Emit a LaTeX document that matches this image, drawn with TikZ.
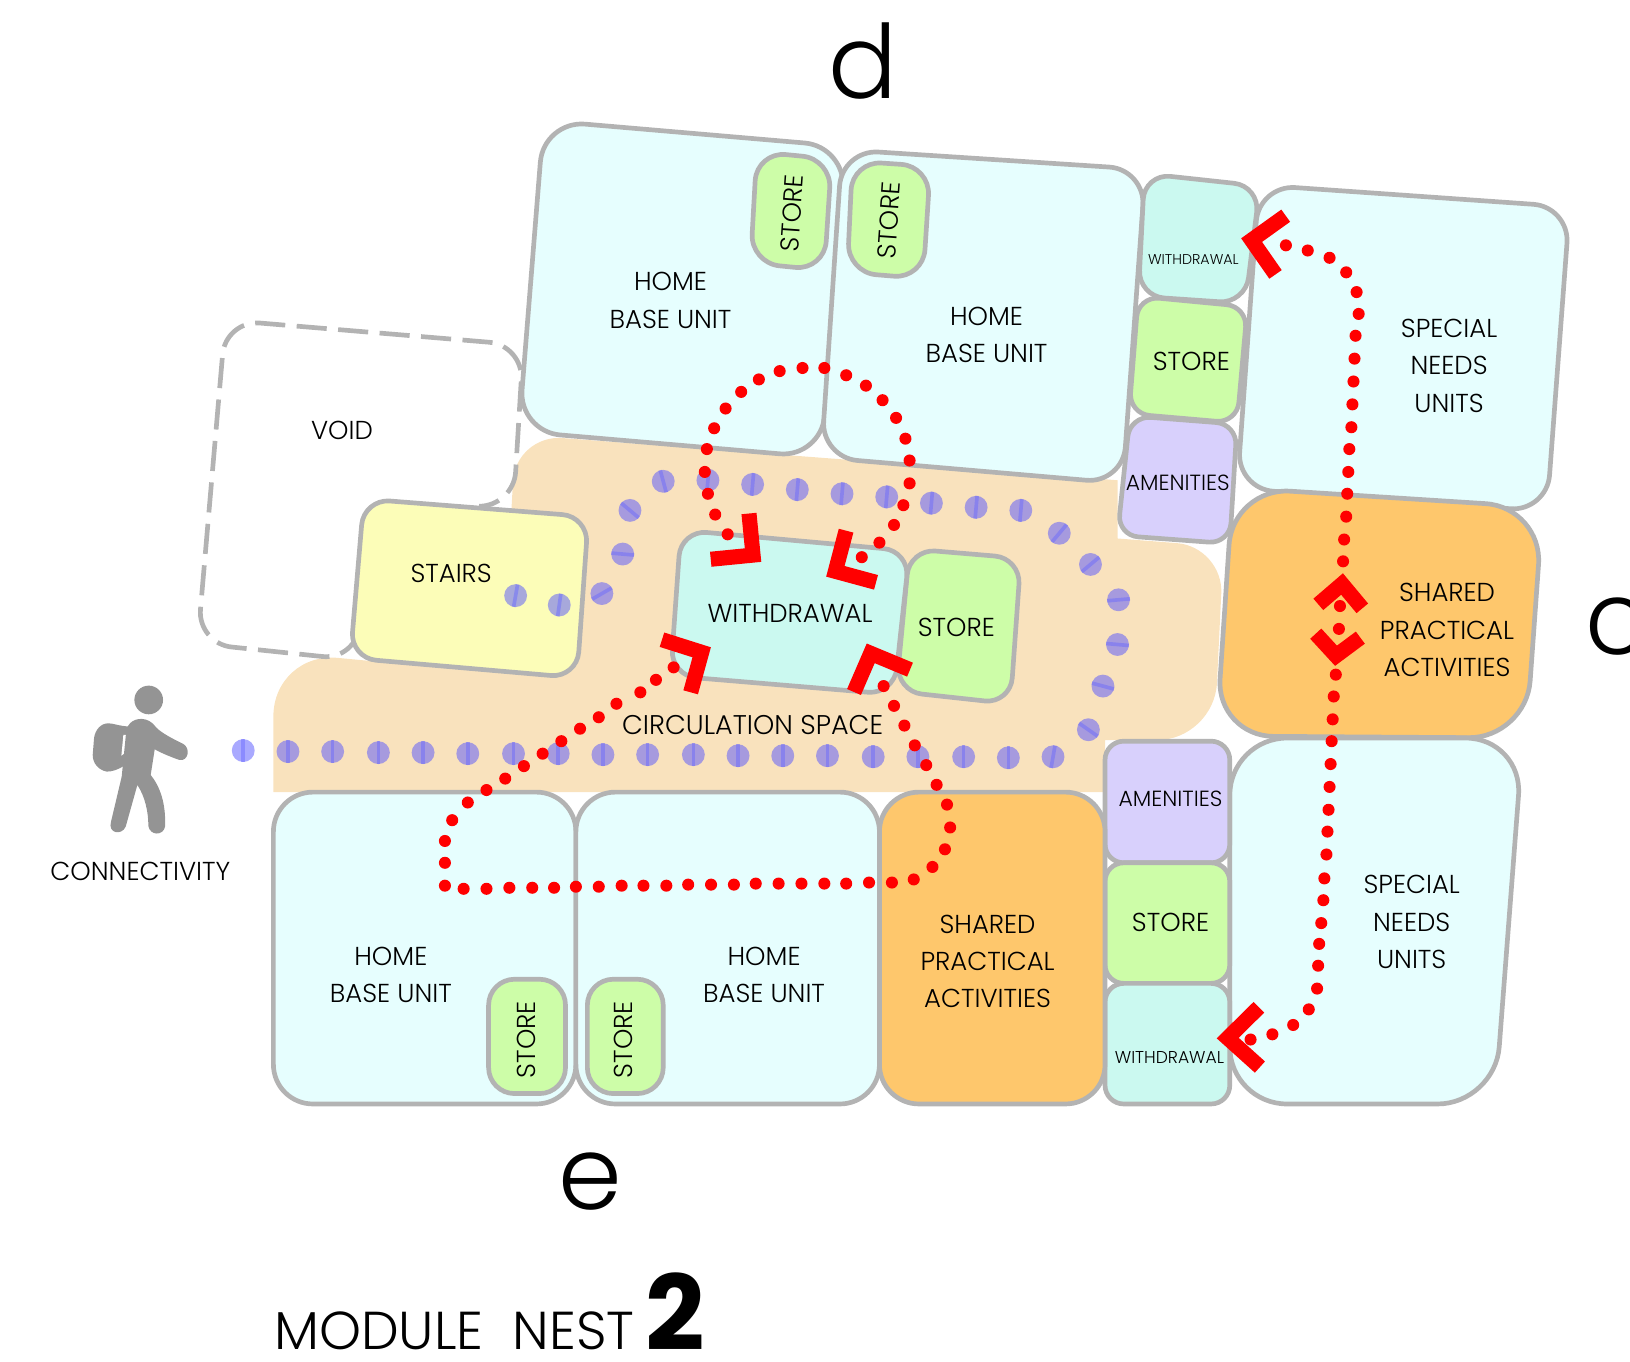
\documentclass[tikz,border=0pt]{standalone}
\usepackage{fontspec}
\setmainfont{Poppins}[UprightFont=* Light, BoldFont=* Bold]
\definecolor{linegrey}{HTML}{B3B3B3}
\definecolor{homecol}{HTML}{E6FEFE}
\definecolor{storecol}{HTML}{CDFDA8}
\definecolor{withdrawcol}{HTML}{CBF9F0}
\definecolor{amenitycol}{HTML}{D8D0FC}
\definecolor{sharedcol}{HTML}{FEC76C}
\definecolor{staircol}{HTML}{FCFDB8}
\definecolor{circcol}{HTML}{F9E2BD}
\definecolor{walkcol}{HTML}{949494}
\tikzset{
  room/.style={draw=linegrey, line width=0.045cm, line join=round},
  label/.style={font=\fontsize{7.1}{10.2}\selectfont, align=center, inner sep=0pt},
  tiny label/.style={font=\fontsize{4.7}{6}\selectfont, inner sep=0pt},
  narrow label/.style={font=\fontsize{6}{8}\selectfont, inner sep=0pt},
  big letter/.style={font=\fontsize{28}{30}\selectfont, inner sep=0pt},
  chevron/.style={draw=red, line width=0.145cm, miter limit=10},
  bluedot/.style={fill=blue!67!white, fill opacity=0.5},
  bluestripe/.style={draw=blue!60!white, line width=0.035cm, draw opacity=0.45}
}
\begin{document}
\begin{tikzpicture}[x=0.01cm, y=-0.01cm]
\path[use as bounding box, clip] (0,0) rectangle (1568,1310);

% circulation space
\fill[circcol] (263,762) [rounded corners=0.62cm] -- (263,627) [sharp corners] -- (400,640) -- (400,520)
  -- (492,520) -- (492,490) [rounded corners=0.45cm] -- (496,418) [sharp corners] -- (1075,462)
  -- (1075,518) [rounded corners=0.45cm] -- (1177,526) [rounded corners=0.55cm] -- (1168,712)
  [sharp corners] -- (1063,712) -- (1063,762) -- cycle;

% void
\draw[linegrey, line width=0.045cm, dash pattern=on 0.29cm off 0.11cm, rounded corners=0.33cm]
  (470,487) -- (494,487) -- (503.5,332) -- (217,308) -- (190,619) -- (343,635) -- (346,600);

% top units
\draw[room, fill=homecol, rounded corners=0.4cm] (523,116) -- (814,141) -- (790,440) -- (499,415) -- cycle;
\draw[room, fill=homecol, rounded corners=0.35cm] (810,144) -- (1102,163) -- (1080,465) -- (790,440) -- cycle;
\draw[room, fill=storecol, rounded corners=0.28cm] (728,146) -- (800,153) -- (793,260) -- (722,253) -- cycle;
\draw[room, fill=storecol, rounded corners=0.28cm] (820,155) -- (895,160) -- (888,268) -- (815,262) -- cycle;
\draw[room, fill=withdrawcol, rounded corners=0.25cm] (1101,167) -- (1212,179) -- (1198,292) -- (1095,285) -- cycle;
\draw[room, fill=storecol, rounded corners=0.2cm] (1095,285) -- (1200,295) -- (1190,407) -- (1086,398) -- cycle;
\draw[room, fill=amenitycol, rounded corners=0.2cm] (1087,400) -- (1190,408) -- (1183,523) -- (1075,515) -- cycle;
\draw[room, fill=homecol, rounded corners=0.35cm] (1211,178) -- (1510,199) -- (1488,492) -- (1190,470) -- cycle;
\draw[room, fill=sharedcol, rounded corners=0.55cm] (1186,469) -- (1484,488) -- (1468,710) -- (1170,708) -- cycle;

% bottom units
\draw[room, fill=homecol, rounded corners=0.55cm] (1183,710) -- (1465,710) -- (1438,1062) -- (1183,1062) -- cycle;
\draw[room, fill=amenitycol, rounded corners=0.18cm] (1063,713) -- (1183,713) -- (1183,830) -- (1063,830) -- cycle;
\draw[room, fill=storecol, rounded corners=0.18cm] (1063,830) -- (1183,830) -- (1183,946) -- (1063,946) -- cycle;
\draw[room, fill=withdrawcol, rounded corners=0.18cm] (1063,946) -- (1183,946) -- (1183,1062) -- (1063,1062) -- cycle;
\draw[room, fill=homecol, rounded corners=0.38cm] (263,762) -- (554,762) -- (554,1062) -- (263,1062) -- cycle;
\draw[room, fill=homecol, rounded corners=0.38cm] (554,762) -- (846,762) -- (846,1062) -- (554,1062) -- cycle;
\draw[room, fill=sharedcol, rounded corners=0.38cm] (846,762) -- (1063,762) -- (1063,1062) -- (846,1062) -- cycle;
\draw[room, fill=storecol, rounded corners=0.25cm] (470,942) -- (544,942) -- (544,1052) -- (470,1052) -- cycle;
\draw[room, fill=storecol, rounded corners=0.25cm] (565,942) -- (638,942) -- (638,1052) -- (565,1052) -- cycle;

% middle rooms
\draw[room, fill=staircol, rounded corners=0.25cm] (350,480) -- (566,497) -- (555,652) -- (337,633) -- cycle;
\draw[room, fill=storecol, rounded corners=0.25cm] (875,528) -- (982,537) -- (972,677) -- (862,665) -- cycle;
\draw[room, fill=withdrawcol, rounded corners=0.25cm] (655,510) -- (875,530) -- (860,668) -- (645,650) -- cycle;

% walker
\begin{scope}[shift={(77,644.5)}, x=0.0032cm, y=-0.0032cm]
\fill[walkcol] (206,90) circle (43);
\fill[walkcol] (85,160) .. controls (100,160) and (115,168) .. (150,170) -- (135,285)
  .. controls (115,300) and (95,305) .. (80,305) .. controls (55,300) and (38,280) .. (38,255)
  -- (42,205) .. controls (45,180) and (62,160) .. (85,160) -- cycle;
\fill[white] (130,195) -- (139,195) -- (134,250) -- (124,257) -- cycle;
\fill[walkcol] (150,160) .. controls (165,143) and (205,138) .. (228,172)
  .. controls (245,190) and (285,210) .. (310,222) .. controls (332,235) and (325,275) .. (298,270)
  .. controls (275,262) and (245,250) .. (224,238) -- (212,315)
  .. controls (240,350) and (258,400) .. (255,470) .. controls (250,498) and (210,498) .. (205,468)
  .. controls (205,425) and (195,380) .. (172,345) -- (137,470)
  .. controls (125,498) and (82,490) .. (93,455) -- (125,320) -- (137,200)
  .. controls (138,185) and (140,170) .. (150,160) -- cycle;
\end{scope}

% connectivity route
\foreach \x/\y/\a in {234/722/0, 277/723/0, 320/723/0, 364/724/0, 407/724/0, 450/725/0, 494/725/0,
  537/725/0, 580/726/0, 623/726/0, 667/726/0, 710/727/0, 753/727/0, 796/727/0, 840/728/0, 883/728/0,
  927/728/0, 970/729/0, 1013/728/-10, 1047/702/55, 1061/660/75, 1075/620/85, 1076/577/95, 1049/543/130,
  1019/513/140, 982/491/-5, 939/488/-5, 896/484/-5, 853/478/-5, 810/475/-5, 767/471/-5, 724/466/-5,
  681/462/-5, 638/463/15, 606/491/50, 599/533/85, 579/571/120, 538/582/-8, 496/573/-10} {
  \fill[bluedot] (\x,\y) circle (11);
  \draw[bluestripe, shift={(\x,\y)}, rotate=\a] (0,-11) -- (0,11);
}

% labels
\node[label] (homea) at (645,289) {HOME\\BASE UNIT};
\node[label] (homeb) at (949,322) {HOME\\BASE UNIT};
\node[label] (homec) at (376,938) {HOME\\BASE UNIT};
\node[label] (homed) at (735,938) {HOME\\BASE UNIT};
\node[label, rotate=86] (storea) at (762,205) {STORE};
\node[label, rotate=86] (storeb) at (855,212) {STORE};
\node[label, rotate=90] (storec) at (506,1000) {STORE};
\node[label, rotate=90] (stored) at (600,1000) {STORE};
\node[label] (storee) at (1146,348) {STORE};
\node[label] (storef) at (920,604) {STORE};
\node[label] (storeg) at (1126,887) {STORE};
\node[tiny label, font=\fontsize{3.9}{5}\selectfont] (withdrawa) at (1148,250) {WITHDRAWAL};
\node[label] (withdrawb) at (760,590) {WITHDRAWAL};
\node[tiny label] (withdrawc) at (1125,1017) {WITHDRAWAL};
\node[narrow label] (amenitya) at (1133,464) {AMENITIES};
\node[narrow label] (amenityb) at (1126,768) {AMENITIES};
\node[label] (speciala) at (1394,352) {SPECIAL\\NEEDS\\UNITS};
\node[label] (specialb) at (1358,887) {SPECIAL\\NEEDS\\UNITS};
\node[label] (shareda) at (1392,606) {SHARED\\PRACTICAL\\ACTIVITIES};
\node[label] (sharedb) at (950,925) {SHARED\\PRACTICAL\\ACTIVITIES};
\node[label] (void) at (329,414) {VOID};
\node[label] (stairs) at (434,552) {STAIRS};
\node[label, font=\fontsize{7.4}{10}\selectfont] (circ) at (724,697) {CIRCULATION SPACE};
\node[label] (conn) at (135,838) {CONNECTIVITY};
\node[big letter] (d) at (830,59) {d};
\node[big letter] (e) at (568,1137) {e};
\node[big letter] (c) at (1555,603) {c};
\node[font=\fontsize{14.6}{18}\selectfont, inner sep=0pt, anchor=west] (module) at (263,1280) {MODULE\ \ NEST};
\node[font=\fontsize{28.5}{30}\bfseries\selectfont, inner sep=0pt] (two) at (650,1262) {2};

% red routes
\foreach \x/\y in {700/514, 688/495, 681/475, 678/454, 680/432, 687/412, 698/393, 713/377, 730/365, 750/357,
  772/354, 793/354, 814/361, 833/371, 849/385, 862/402, 871/422, 875/443, 875/465, 869/486, 860/505, 846/522,
  829/536,
  648/642, 631/654, 616/666, 593/677, 576/690, 558/701, 540/713, 522/725, 504/737, 486/749, 468/760, 450/772,
  435/789, 428/809, 428/830, 428/852, 446/855, 468/855, 490/854, 512/854, 533/854, 554/853, 576/853, 598/852,
  619/852, 641/852, 662/851, 684/851, 706/851, 727/850, 749/850, 771/850, 793/850, 814/850, 836/849, 858/849,
  879/846, 897/834, 909/817, 914/796, 911/774, 901/755, 891/736, 880/717, 870/698, 860/679, 850/660,
  1237/236, 1258/241, 1279/248, 1295/262, 1305/281, 1307/302, 1304/323, 1303/345, 1302/367, 1301/389, 1300/411,
  1298/432, 1297/454, 1296/475, 1295/497, 1293/519, 1292/540, 1289/583, 1288/605, 1285/649, 1283/670, 1282/692,
  1281/713, 1280/735, 1279/757, 1278/779, 1277/800, 1276/822, 1274/845, 1273/866, 1271/888, 1269/908, 1268/929,
  1267/951, 1259/971, 1244/986, 1224/995, 1203/1000} {
  \fill[red] (\x,\y) circle (5.8);
}

% arrow heads
\draw[chevron] (720.5,494) -- (724.4,534) -- (683.7,538);
\draw[chevron] (813.9,510.5) -- (803.6,549.6) -- (842.7,560.2);
\draw[chevron] (636.8,615.4) -- (675,627.5) -- (664.4,666);
\draw[chevron] (875.4,644.2) -- (837.6,628.5) -- (821.5,665.7);
\draw[chevron] (1268.2,581.4) -- (1291,561.8) -- (1310.5,585.2);
\draw[chevron] (1265.7,609.6) -- (1285.2,630.8) -- (1308.6,613.4);
\draw[chevron] (1236.8,207.5) -- (1204,231) -- (1227,264);
\draw[chevron] (1211,969) -- (1181,998.6) -- (1212,1026.5);
\end{tikzpicture}
\end{document}
